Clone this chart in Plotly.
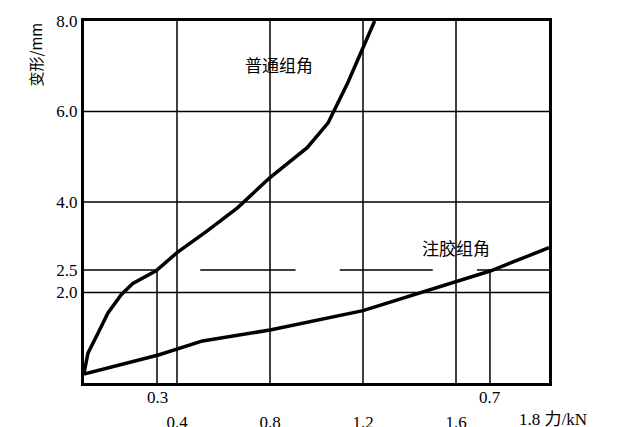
import plotly.graph_objects as go

# load (kN) vs deformation (mm)
x_normal = [0, 0.017, 0.06, 0.103, 0.16, 0.21, 0.31, 0.40, 0.53, 0.66, 0.80, 0.96, 1.05, 1.135, 1.2, 1.25]
y_normal = [0.22, 0.66, 1.1, 1.55, 1.95, 2.2, 2.48, 2.88, 3.36, 3.87, 4.54, 5.2, 5.75, 6.64, 7.41, 8.0]
x_glue = [0, 0.1, 0.32, 0.51, 0.80, 1.2, 1.48, 1.75, 2.0]
y_glue = [0.2, 0.33, 0.62, 0.93, 1.17, 1.6, 2.04, 2.48, 2.99]
x_ticks = [0.4, 0.8, 1.2, 1.6]
y_ticks = [2.0, 2.5, 4.0, 6.0, 8.0]
mark_x = [0.314, 1.746]
mark_labels = ["0.3", "0.7"]

font = dict(family="Liberation Serif, Noto Sans CJK SC", size=17, color="black")
fig = go.Figure()
for xs, ys in [(x_normal, y_normal), (x_glue, y_glue)]:
    fig.add_trace(go.Scatter(x=xs, y=ys, mode="lines", line=dict(color="black", width=3.5),
                             showlegend=False, cliponaxis=True))

ln = dict(color="black", width=1.5)
for v in x_ticks:
    fig.add_shape(type="line", x0=v, x1=v, y0=0, y1=8, line=ln)
for v in [2.0, 4.0, 6.0]:
    fig.add_shape(type="line", x0=0, x1=2, y0=v, y1=v, line=ln)
for a, b in [(0, 0.31), (0.5, 0.91), (1.1, 1.5), (1.69, 2.0)]:
    fig.add_shape(type="line", x0=a, x1=b, y0=2.5, y1=2.5, line=ln)
for v, t in zip(mark_x, mark_labels):
    fig.add_shape(type="line", x0=v, x1=v, y0=0, y1=2.5, line=ln)
    fig.add_annotation(x=v, y=0, yshift=-14, text=t, showarrow=False, font=font, xanchor="center")

fig.add_annotation(x=0.84, y=7.0, text="普通组角", showarrow=False, font=font)
fig.add_annotation(x=1.6, y=2.95, text="注胶组角", showarrow=False, font=font)
fig.add_annotation(x=2.0, y=0, yshift=-36, text="1.8 力/kN", showarrow=False, font=font, xanchor="left", xshift=-32)
fig.add_annotation(x=0, y=8, xref="paper", yref="y", xshift=-62, yshift=-34, text="变形/mm", textangle=-90,
                   showarrow=False, font=dict(family="Noto Sans CJK SC", size=15, color="black"))

fig.update_xaxes(range=[0, 2.0], tickvals=x_ticks, ticktext=["0.4", "0.8", "1.2", "1.6"], showgrid=False,
                 zeroline=False, showline=True, linecolor="black", linewidth=3, mirror=True, ticks="",
                 ticklabelstandoff=22, tickfont=font, automargin=False)
fig.update_yaxes(range=[0, 8.0], tickvals=y_ticks, ticktext=["2.0", "2.5", "4.0", "6.0", "8.0"], showgrid=False,
                 zeroline=False, showline=True, linecolor="black", linewidth=3, mirror=True, ticks="",
                 tickfont=font, automargin=False)
fig.update_layout(width=638, height=427, margin=dict(l=76, r=97, t=13, b=52),
                  plot_bgcolor="white", paper_bgcolor="white")
fig.write_html("out.html")
